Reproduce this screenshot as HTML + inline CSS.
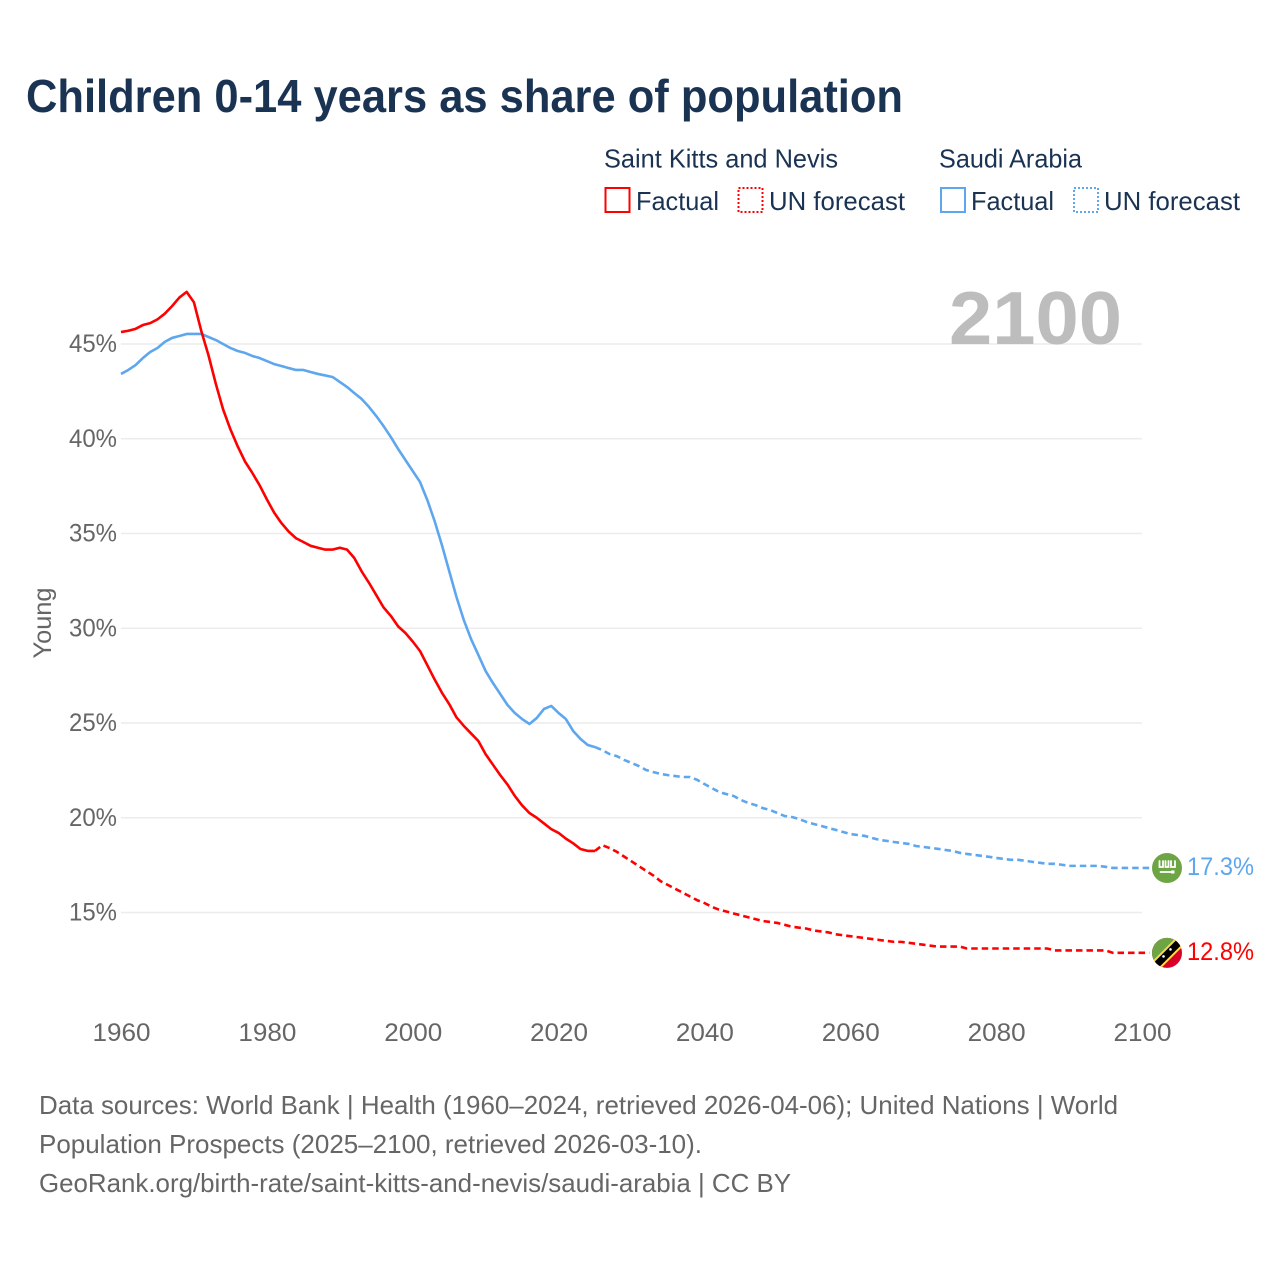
<!DOCTYPE html>
<html lang="en">
<head>
<meta charset="utf-8">
<title>Children 0-14 years as share of population</title>
<style>
html,body{margin:0;padding:0;background:#fff;width:1280px;height:1280px;overflow:hidden}
svg{display:block}
text{font-family:"Liberation Sans",sans-serif}
</style>
</head>
<body>
<svg id="chart" width="1280" height="1280" viewBox="0 0 1280 1280" xmlns="http://www.w3.org/2000/svg">
  <defs>
    <clipPath id="flag-clip-sa"><circle cx="0" cy="0" r="15"/></clipPath>
    <clipPath id="flag-clip-kn"><circle cx="0" cy="0" r="15"/></clipPath>
  </defs>
  <text x="26" y="112" font-size="46" font-weight="700" fill="#1a3353" textLength="877" lengthAdjust="spacingAndGlyphs">Children 0-14 years as share of population</text>

  <g>
    <text x="604" y="167.5" font-size="26" fill="#1a3353" textLength="234" lengthAdjust="spacingAndGlyphs">Saint Kitts and Nevis</text>
    <text x="939" y="167.5" font-size="26" fill="#1a3353" textLength="143" lengthAdjust="spacingAndGlyphs">Saudi Arabia</text>
    <rect x="605.5" y="188" width="24" height="24" fill="none" stroke="#ff0000" stroke-width="2"/>
    <text x="636" y="210" font-size="26" fill="#1a3353" textLength="83" lengthAdjust="spacingAndGlyphs">Factual</text>
    <rect x="738.5" y="188" width="24" height="24" fill="none" stroke="#ff0000" stroke-width="2" stroke-dasharray="2 2"/>
    <text x="769" y="210" font-size="26" fill="#1a3353" textLength="136" lengthAdjust="spacingAndGlyphs">UN forecast</text>
    <rect x="941" y="188" width="24" height="24" fill="none" stroke="#5ea7ee" stroke-width="2"/>
    <text x="971" y="210" font-size="26" fill="#1a3353" textLength="83" lengthAdjust="spacingAndGlyphs">Factual</text>
    <rect x="1074" y="188" width="24" height="24" fill="none" stroke="#5ea7ee" stroke-width="2" stroke-dasharray="2 2"/>
    <text x="1104" y="210" font-size="26" fill="#1a3353" textLength="136" lengthAdjust="spacingAndGlyphs">UN forecast</text>
  </g>

  <g id="grid"></g>
  <text x="949" y="344" font-size="75" font-weight="700" fill="#bdbdbd" textLength="173" lengthAdjust="spacingAndGlyphs">2100</text>
  <g id="y-ticks"></g>
  <g id="x-ticks"></g>
  <text transform="translate(51 623) rotate(-90)" text-anchor="middle" font-size="25" fill="#666666" textLength="71" lengthAdjust="spacingAndGlyphs">Young</text>
  <g id="series"></g>

  <g id="flag-sa">
    <circle cx="0" cy="0" r="15" fill="#6da544"/>
    <g fill="none" stroke="#ffffff" stroke-width="1.8" stroke-linecap="round">
      <path d="M-7.5 -7 V-1 H-4 V-7 M-1.5 -7 V-1 H1.5 V-7 M4 -7 V-1 H8 V-7"/>
      <path d="M-6.5 4 H6"/>
    </g>
    <rect x="4" y="2.5" width="3.5" height="3" fill="#ffffff"/>
  </g>
  <g id="flag-kn">
    <g clip-path="url(#flag-clip-kn)">
      <rect x="-16" y="-16" width="32" height="32" fill="#d80027"/>
      <path d="M-16 -16 H16 L-16 16 Z" fill="#6da544"/>
      <path d="M-13 16 L16 -13" stroke="#ffda44" stroke-width="11" fill="none" transform="translate(0 -1.5)"/>
      <path d="M-13 16 L16 -13" stroke="#000000" stroke-width="7" fill="none" transform="translate(0 -1.5)"/>
      <circle cx="-3.5" cy="3.5" r="1.3" fill="#ffffff"/>
      <circle cx="3.5" cy="-3.5" r="1.3" fill="#ffffff"/>
    </g>
  </g>
  <g id="end-labels"></g>

  <g>
    <text x="39" y="1114" font-size="26" fill="#666666" textLength="1079" lengthAdjust="spacingAndGlyphs">Data sources: World Bank | Health (1960–2024, retrieved 2026-04-06); United Nations | World</text>
    <text x="39" y="1153" font-size="26" fill="#666666" textLength="663" lengthAdjust="spacingAndGlyphs">Population Prospects (2025–2100, retrieved 2026-03-10).</text>
    <text x="39" y="1192" font-size="26" fill="#666666" textLength="752" lengthAdjust="spacingAndGlyphs">GeoRank.org/birth-rate/saint-kitts-and-nevis/saudi-arabia | CC BY</text>
  </g>
</svg>
<script>
const xTickYears = [1960, 1980, 2000, 2020, 2040, 2060, 2080, 2100];
const yTickValues = [45, 40, 35, 30, 25, 20, 15];
const factualStartYear = 1960;
const forecastStartYear = 2025;
const kittsFactual = [45.63,45.7,45.8,46.0,46.1,46.3,46.6,47.0,47.45,47.75,47.2,45.7,44.4,42.9,41.55,40.5,39.6,38.8,38.2,37.55,36.8,36.1,35.55,35.1,34.75,34.55,34.35,34.25,34.15,34.15,34.25,34.15,33.7,33.0,32.4,31.75,31.1,30.65,30.1,29.75,29.3,28.8,28.05,27.3,26.6,26.0,25.3,24.85,24.45,24.05,23.35,22.8,22.25,21.75,21.15,20.65,20.25,20.0,19.7,19.4,19.2,18.9,18.65,18.35,18.25,18.25];
const kittsForecast = [18.25,18.55,18.4,18.2,17.95,17.7,17.45,17.2,16.95,16.65,16.45,16.25,16.05,15.85,15.65,15.5,15.3,15.15,15.05,14.95,14.85,14.75,14.65,14.55,14.5,14.45,14.35,14.25,14.2,14.15,14.05,14.0,13.95,13.85,13.8,13.75,13.7,13.65,13.6,13.55,13.5,13.45,13.45,13.4,13.35,13.3,13.25,13.2,13.2,13.2,13.2,13.1,13.1,13.1,13.1,13.1,13.1,13.1,13.1,13.1,13.1,13.1,13.1,13.0,13.0,13.0,13.0,13.0,13.0,13.0,13.0,12.87,12.87,12.87,12.87,12.87,12.87];
const saudiFactual = [43.42,43.63,43.89,44.26,44.58,44.79,45.11,45.32,45.42,45.53,45.53,45.53,45.37,45.21,45.0,44.79,44.63,44.53,44.37,44.26,44.1,43.94,43.84,43.73,43.63,43.63,43.52,43.42,43.34,43.26,43.0,42.73,42.41,42.1,41.68,41.2,40.67,40.09,39.46,38.88,38.3,37.72,36.77,35.66,34.39,33.02,31.65,30.44,29.43,28.59,27.74,27.11,26.53,25.95,25.53,25.21,24.95,25.26,25.74,25.9,25.53,25.21,24.58,24.16,23.84,23.73];
const saudiForecast = [23.73,23.57,23.36,23.25,23.05,22.89,22.73,22.52,22.41,22.31,22.25,22.2,22.15,22.15,22.0,21.78,21.57,21.36,21.25,21.15,20.94,20.78,20.67,20.51,20.41,20.25,20.09,20.04,19.93,19.78,19.67,19.57,19.46,19.36,19.25,19.14,19.09,19.04,18.93,18.83,18.78,18.72,18.67,18.62,18.51,18.46,18.41,18.36,18.3,18.25,18.15,18.09,18.04,17.99,17.94,17.88,17.83,17.78,17.78,17.73,17.67,17.62,17.57,17.57,17.52,17.46,17.46,17.46,17.46,17.46,17.41,17.35,17.35,17.35,17.35,17.35,17.35];
const endValueLabels = ["17.3%", "12.8%"];

const NS = "http://www.w3.org/2000/svg";
const xScale = year => 121 + (year - 1960) * (1142 - 121) / 140;
const yScale = value => 344 + (45 - value) * 18.95;
const RED = "#ff0000";
const BLUE = "#5ea7ee";

function make(tag, attrs, parent, content) {
  const node = document.createElementNS(NS, tag);
  for (const key in attrs) node.setAttribute(key, attrs[key]);
  if (content !== undefined) node.textContent = content;
  parent.appendChild(node);
  return node;
}

const gridGroup = document.getElementById("grid");
const yGroup = document.getElementById("y-ticks");
yTickValues.forEach(v => {
  const line = make("line", {x1: 121, x2: 1142, y1: yScale(v), y2: yScale(v), stroke: "#ececec", "stroke-width": 1.4}, gridGroup);
  
  
  const label = make("text", {x: 117, y: yScale(v) + 8, "text-anchor": "end", "font-size": 25, fill: "#666666", textLength: 48, lengthAdjust: "spacingAndGlyphs"}, yGroup, v + "%");
  
  
});

const xGroup = document.getElementById("x-ticks");
xTickYears.forEach(year => {
  const label = make("text", {x: xScale(year) + 0.5, y: 1041, "text-anchor": "middle", "font-size": 25, fill: "#666666", textLength: 58, lengthAdjust: "spacingAndGlyphs"}, xGroup, String(year));
  
  
});

function linePath(values, startYear) {
  return values.map((v, i) => (i ? "L" : "M") + xScale(startYear + i).toFixed(2) + " " + yScale(v).toFixed(2)).join(" ");
}

const seriesGroup = document.getElementById("series");
const saudiFactualLine = make("path", {d: linePath(saudiFactual, factualStartYear), fill: "none", stroke: BLUE, "stroke-width": 2.6, "stroke-linejoin": "round"}, seriesGroup);


const saudiForecastLine = make("path", {d: linePath(saudiForecast, forecastStartYear), fill: "none", stroke: BLUE, "stroke-width": 2.6, "stroke-dasharray": "6.5 4"}, seriesGroup);


const kittsFactualLine = make("path", {d: linePath(kittsFactual, factualStartYear), fill: "none", stroke: RED, "stroke-width": 2.6, "stroke-linejoin": "round"}, seriesGroup);


const kittsForecastLine = make("path", {d: linePath(kittsForecast, forecastStartYear), fill: "none", stroke: RED, "stroke-width": 2.6, "stroke-dasharray": "6.5 4"}, seriesGroup);



const saudiEndY = yScale(saudiForecast[saudiForecast.length - 1]);
const kittsEndY = yScale(kittsForecast[kittsForecast.length - 1]);
document.getElementById("flag-sa").setAttribute("transform", "translate(1167 " + saudiEndY + ")");
document.getElementById("flag-kn").setAttribute("transform", "translate(1167 " + kittsEndY + ")");

const endGroup = document.getElementById("end-labels");
const saudiEndLabel = make("text", {x: 1187, y: saudiEndY + 7, "font-size": 25, fill: BLUE, textLength: 67, lengthAdjust: "spacingAndGlyphs"}, endGroup, endValueLabels[0]);


const kittsEndLabel = make("text", {x: 1187, y: kittsEndY + 7, "font-size": 25, fill: RED, textLength: 67, lengthAdjust: "spacingAndGlyphs"}, endGroup, endValueLabels[1]);


</script>
</body>
</html>
